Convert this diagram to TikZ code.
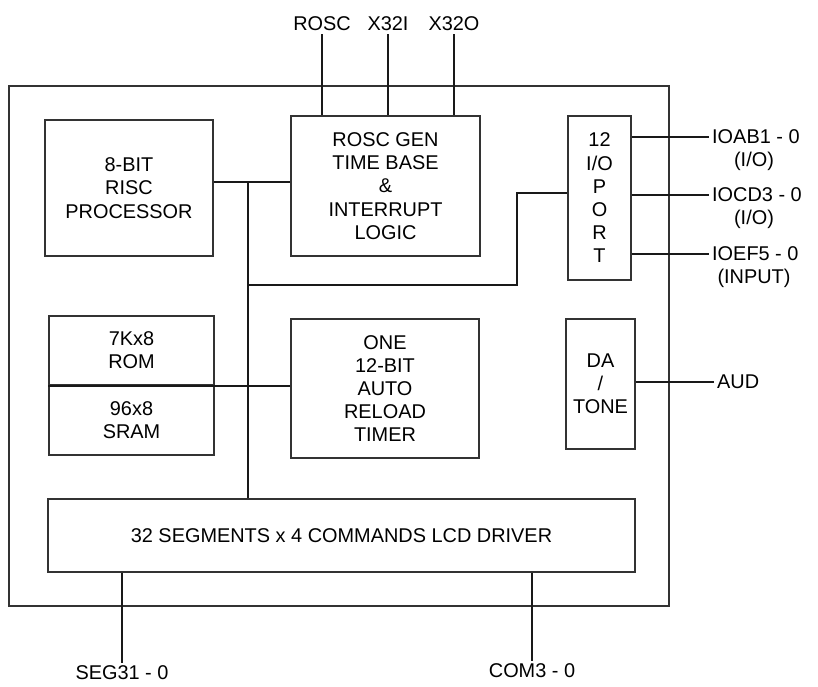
\documentclass[tikz,border=0pt]{standalone}
\usepackage{fontspec}
\setmainfont{Liberation Sans}
\begin{document}
\begin{tikzpicture}[x=1pt,y=-1pt]
\tikzset{
    icBlock/.style={rectangle,draw=black!80,line width=1.3pt,align=center,inner sep=0pt,font=\fontsize{19.9}{23.2}\selectfont},
    icPin/.style={inner sep=3pt,align=center,font=\fontsize{19.9}{23.2}\selectfont},
    icWire/.style={draw=black!90,line width=1.8pt},
}
\useasboundingbox (0,0) rectangle (818,686);

\node[icBlock,minimum width=660pt,minimum height=520pt] (chip) at (339,346) {};

\node[icBlock,minimum width=168pt,minimum height=136pt] (cpu) at (129,188) {8-BIT\\RISC\\PROCESSOR};
\node[icBlock,minimum width=189pt,minimum height=140pt] (osc) at (385.5,186) {ROSC GEN\\TIME BASE\\\&\\INTERRUPT\\LOGIC};
\node[icBlock,minimum width=63pt,minimum height=164pt] (ioport) at (599.5,198) {12\\I/O\\P\\O\\R\\T};

\node[icBlock,minimum width=165pt,minimum height=69pt] (rom) at (131.5,350.5) {7Kx8\\ROM};
\node[icBlock,minimum width=165pt,minimum height=70pt] (sram) at (131.5,420) {96x8\\SRAM};
\node[icBlock,minimum width=188pt,minimum height=139pt] (timer) at (385,388.5) {ONE\\12-BIT\\AUTO\\RELOAD\\TIMER};
\node[icBlock,minimum width=69pt,minimum height=130pt] (datone) at (600.5,384) {DA\\/\\TONE};

\node[icBlock,minimum width=587pt,minimum height=73pt] (lcd) at (341.5,535.5) {32 SEGMENTS x 4 COMMANDS LCD DRIVER};

% pins
\node[icPin] (pRosc) at (322,24) {ROSC};
\node[icPin] (pXin) at (388,24) {X32I};
\node[icPin] (pXout) at (454,24) {X32O};

\node[icPin,anchor=west] (pIoab) at (709,137) {IOAB1 - 0};
\node[icPin] (pIoabT) at (754,161) {(I/O)};
\node[icPin,anchor=west] (pIocd) at (709,195) {IOCD3 - 0};
\node[icPin] (pIocdT) at (754,219) {(I/O)};
\node[icPin,anchor=west] (pIoef) at (709,254) {IOEF5 - 0};
\node[icPin] (pIoefT) at (754,278) {(INPUT)};
\node[icPin,anchor=west] (pAud) at (714,382) {AUD};

\node[icPin] (pSeg) at (122,673) {SEG31 - 0};
\node[icPin] (pCom) at (532,671) {COM3 - 0};

\draw[icWire] (pRosc.south) -- (pRosc.south |- osc.north);
\draw[icWire] (pXin.south) -- (pXin.south |- osc.north);
\draw[icWire] (pXout.south) -- (pXout.south |- osc.north);

\draw[icWire] (pIoab.west -| ioport.east) -- (pIoab.west);
\draw[icWire] (pIocd.west -| ioport.east) -- (pIocd.west);
\draw[icWire] (pIoef.west -| ioport.east) -- (pIoef.west);
\draw[icWire] (pAud.west -| datone.east) -- (pAud.west);

\draw[icWire] (lcd.south -| pSeg) -- (pSeg.north);
\draw[icWire] (lcd.south -| pCom) -- (pCom.north);

% internal bus
\coordinate (busTop) at (248,182);
\coordinate (busMid) at (248,285);
\coordinate (ioJog) at (517,193);
\draw[icWire] (cpu.east |- busTop) -- (osc.west |- busTop);
\draw[icWire] (busTop) -- (busTop |- lcd.north);
\draw[icWire] (busMid) -| (ioJog) -- (ioJog -| ioport.west);
\draw[icWire] (rom.south west) -- (rom.south west -| timer.west);
\end{tikzpicture}
\end{document}
